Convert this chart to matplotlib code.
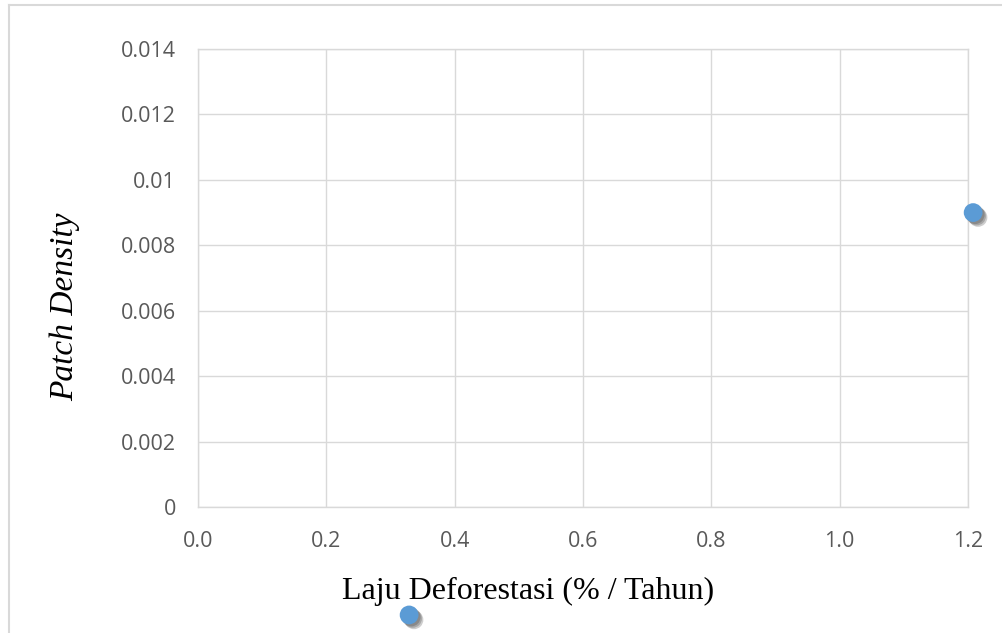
#!/usr/bin/env python3
# scatter: laju deforestasi vs patch density (excel-like style)
import matplotlib
matplotlib.use("Agg")
import matplotlib.pyplot as plt
import matplotlib.patheffects as pe
from matplotlib.lines import Line2D

laju = [1.208, 0.329]          # % / tahun
patchDensity = [0.009, -0.0033]

xTicks = [0.0, 0.2, 0.4, 0.6, 0.8, 1.0, 1.2]
yTicks = [0, 0.002, 0.004, 0.006, 0.008, 0.01, 0.012, 0.014]
yTickLabels = ["0", "0.002", "0.004", "0.006", "0.008", "0.01", "0.012", "0.014"]

gridColor = "#D9D9D9"
tickColor = "#595959"
tickFont = ["Open Sans", "DejaVu Sans"]
labelFont = ["Liberation Serif", "DejaVu Serif"]

fig = plt.figure(figsize=(10.03, 6.33), dpi=100)
ax = fig.add_axes([198 / 1003, 1 - 507 / 633, 770 / 1003, 458 / 633])

ax.set_xlim(0, 1.2)
ax.set_ylim(0, 0.014)
ax.set_xticks(xTicks)
ax.set_xticklabels(["{:.1f}".format(v) for v in xTicks])
ax.set_yticks(yTicks)
ax.set_yticklabels(yTickLabels)
ax.grid(True, color=gridColor, linewidth=1.0)
ax.set_axisbelow(True)
for s in ax.spines.values():
    s.set_color(gridColor)
    s.set_linewidth(1.0)
ax.tick_params(length=0, labelcolor=tickColor, labelsize=15.5)
ax.tick_params(axis="y", pad=16)
ax.tick_params(axis="x", pad=17)
for lab in ax.get_xticklabels() + ax.get_yticklabels():
    lab.set_family(tickFont)

# soft shadow: a few faint layered offsets, then the marker itself
shadow = [pe.SimplePatchShadow(offset=(d, -d), shadow_rgbFace="#202020", alpha=0.22)
          for d in (1.5, 2.5, 3.5)]
sc = ax.scatter(laju, patchDensity, s=13.5 ** 2, color="#5B9BD5", edgecolors="none",
                clip_on=False, zorder=5)
sc.set_path_effects(shadow + [pe.Normal()])

fig.text(528 / 1003, 1 - 591 / 633, "Laju Deforestasi (% / Tahun)", ha="center", va="center",
         fontsize=23, family=labelFont)
fig.text(65 / 1003, 1 - 307 / 633, "Patch Density", ha="center", va="center", rotation=90,
         fontsize=24, style="italic", family=labelFont)

# outer chart frame (only top/left visible in the crop)
fig.add_artist(Line2D([9 / 1003, 9 / 1003], [0, 1 - 5 / 633], color=gridColor, linewidth=1.5))
fig.add_artist(Line2D([9 / 1003, 1], [1 - 5 / 633, 1 - 5 / 633], color=gridColor, linewidth=1.5))

fig.savefig("out.png", dpi=100)
